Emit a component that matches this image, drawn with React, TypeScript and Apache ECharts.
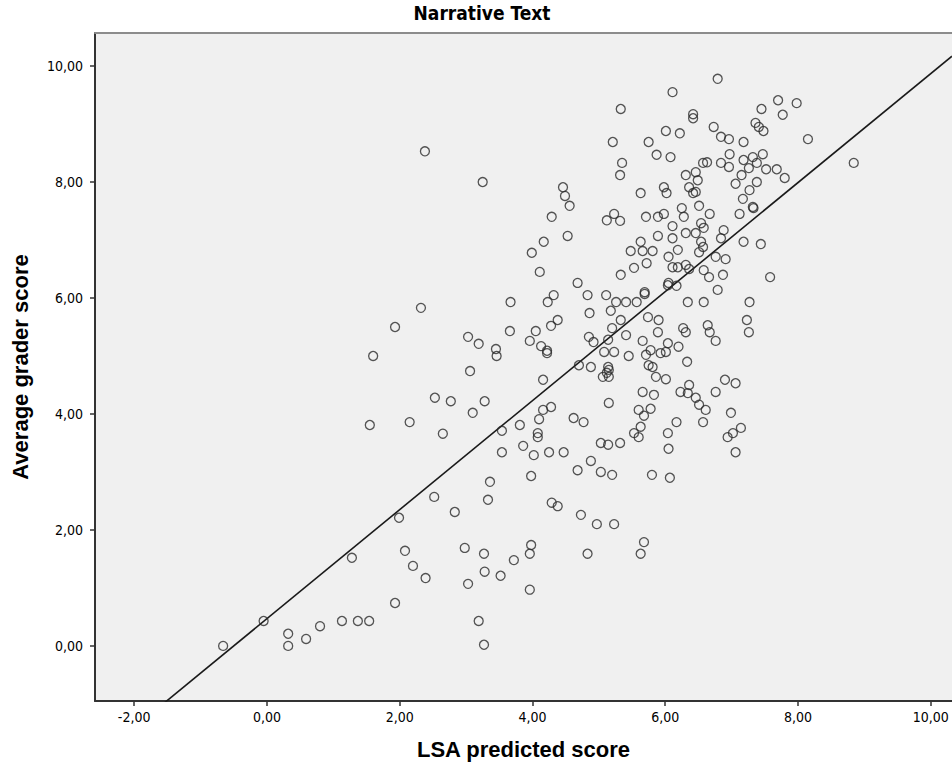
import React, { useEffect, useRef } from "react";
import * as echarts from "echarts";

const chartTitle = "Narrative Text";
const xAxisName = "LSA predicted score";
const yAxisName = "Average grader score";
const xTickValues = [-2, 0, 2, 4, 6, 8, 10];
const yTickValues = [0, 2, 4, 6, 8, 10];
const xRange = [-2.59, 10.32];
const yRange = [-0.95, 10.57];
const fitIntercept = 0.47;
const fitSlope = 0.94;

// [LSA predicted score, Average grader score]
const lowScores: [number, number][] = [
  [-0.66, 0.0], [-0.05, 0.43], [0.32, 0.21], [0.32, 0.0], [0.59, 0.12], [0.8, 0.34],
  [1.13, 0.43], [1.37, 0.43], [1.54, 0.43], [1.28, 1.52], [1.55, 3.81], [1.6, 5.0],
];

const leftScores: [number, number][] = [
  [2.38, 8.53], [3.25, 8.0], [3.99, 6.78], [4.11, 6.45], [2.32, 5.83], [3.67, 5.93], [1.93, 5.5],
  [3.66, 5.43], [4.05, 5.43], [3.03, 5.33], [3.19, 5.21], [3.45, 5.12], [3.46, 5.0], [3.96, 5.26],
  [4.13, 5.17], [4.22, 5.09], [4.22, 5.05], [3.06, 4.74], [4.16, 4.59], [2.53, 4.28], [2.77, 4.22],
  [3.28, 4.22], [3.1, 4.02], [2.15, 3.86], [2.65, 3.66], [3.54, 3.71], [3.81, 3.81], [4.1, 3.91],
  [4.16, 4.07], [4.28, 4.12], [4.08, 3.67], [4.08, 3.6], [3.86, 3.45], [3.54, 3.34], [4.02, 3.29],
  [4.25, 3.34], [4.47, 3.34], [3.36, 2.83], [3.33, 2.52], [2.52, 2.57], [2.83, 2.31], [1.99, 2.21],
  [3.98, 2.93], [4.29, 2.47], [4.38, 2.41], [2.08, 1.64], [2.2, 1.38], [2.39, 1.17], [1.93, 0.74],
  [2.98, 1.69], [3.27, 1.59], [3.28, 1.28], [3.52, 1.21], [3.03, 1.07], [3.72, 1.48], [3.98, 1.74],
  [3.96, 1.59], [3.96, 0.97], [3.19, 0.43], [3.27, 0.02],
  [4.73, 2.26], [4.97, 2.1], [5.23, 2.1], [4.83, 1.59], [5.68, 1.79], [5.63, 1.59],
];

const upperMidScores: [number, number][] = [
  [6.11, 9.55], [5.33, 9.26], [6.01, 8.88], [5.21, 8.69], [5.75, 8.69], [5.87, 8.47], [6.08, 8.43],
  [5.35, 8.33], [5.32, 8.12], [4.46, 7.91], [4.49, 7.76], [4.56, 7.59], [5.63, 7.81], [5.98, 7.91],
  [6.02, 7.81], [4.29, 7.4], [5.23, 7.45], [5.12, 7.34], [5.32, 7.33], [5.71, 7.4], [5.89, 7.4],
  [5.98, 7.45], [6.11, 7.24], [4.17, 6.97], [4.53, 7.07], [5.89, 7.07], [5.63, 6.97], [5.48, 6.81],
  [5.66, 6.81], [5.81, 6.81], [6.11, 7.03], [6.05, 6.71], [6.11, 6.53], [5.72, 6.6], [5.53, 6.52],
  [6.19, 6.83],
];

const upperRightScores: [number, number][] = [
  [6.79, 9.78], [7.7, 9.41], [7.98, 9.36], [7.45, 9.26], [7.77, 9.16], [6.42, 9.17], [6.42, 9.1],
  [6.22, 8.84], [6.73, 8.95], [6.84, 8.78], [6.96, 8.74], [7.36, 9.02], [7.41, 8.95], [7.48, 8.88],
  [8.15, 8.74], [7.18, 8.69], [6.97, 8.48], [6.57, 8.33], [6.63, 8.34], [6.84, 8.33], [6.96, 8.26],
  [7.18, 8.38], [7.32, 8.43], [7.47, 8.48], [7.26, 8.24], [7.38, 8.33], [7.52, 8.22], [7.68, 8.22],
  [7.8, 8.07], [6.31, 8.12], [6.46, 8.17], [6.49, 8.03], [6.36, 7.91], [6.42, 7.81], [6.46, 7.83],
  [7.15, 8.12], [7.38, 8.0], [7.06, 7.97], [7.27, 7.86], [7.17, 7.71], [7.33, 7.55], [7.32, 7.57],
  [6.51, 7.59], [6.25, 7.55], [6.28, 7.4], [6.67, 7.45], [7.12, 7.45], [6.31, 7.12], [6.54, 7.29],
  [6.58, 7.21], [6.46, 7.12], [6.54, 6.97], [6.57, 6.88], [6.51, 6.79], [6.88, 7.17], [6.84, 7.03],
  [7.18, 6.97], [7.44, 6.93], [6.76, 6.71], [6.91, 6.67], [6.19, 6.53], [6.31, 6.57], [6.36, 6.5],
  [6.58, 6.48], [8.84, 8.33],
];

const lowerMidScores: [number, number][] = [
  [5.33, 6.4], [4.68, 6.26], [4.83, 6.05], [4.32, 6.05], [4.23, 5.93], [5.11, 6.05], [5.69, 6.1],
  [5.69, 6.07], [6.05, 6.26], [6.04, 6.22], [4.86, 5.74], [5.18, 5.78], [5.26, 5.93], [5.41, 5.93],
  [5.57, 5.93], [5.33, 5.62], [5.74, 5.67], [5.9, 5.62], [5.89, 5.41], [4.38, 5.62], [4.28, 5.52],
  [5.2, 5.48], [5.41, 5.36], [4.85, 5.33], [4.92, 5.24], [5.14, 5.28], [5.08, 5.07], [5.23, 5.07],
  [5.45, 5.0], [5.66, 5.26], [5.78, 5.1], [5.71, 5.02], [6.04, 5.22], [5.93, 5.05], [6.01, 5.07],
  [4.7, 4.84], [4.88, 4.81], [5.14, 4.81], [5.15, 4.76], [5.12, 4.71], [5.06, 4.64], [5.15, 4.64],
  [5.75, 4.84], [5.81, 4.81], [5.86, 4.64], [6.01, 4.6], [5.15, 4.19], [5.66, 4.38], [5.83, 4.33],
  [4.62, 3.93], [4.77, 3.86], [5.6, 4.07], [5.78, 4.09], [5.68, 3.97], [5.63, 3.78], [5.53, 3.67],
  [5.6, 3.6], [5.03, 3.5], [5.14, 3.47], [5.32, 3.5], [6.04, 3.67], [6.05, 3.4], [4.88, 3.19],
  [4.68, 3.03], [5.03, 3.0], [5.2, 2.95], [5.8, 2.95], [6.07, 2.9],
];

const lowerRightScores: [number, number][] = [
  [6.66, 6.36], [6.87, 6.4], [6.17, 6.21], [6.79, 6.14], [7.58, 6.36], [6.34, 5.93], [6.58, 5.93],
  [7.27, 5.93], [6.27, 5.48], [6.31, 5.41], [6.64, 5.53], [6.67, 5.41], [6.76, 5.26], [7.23, 5.62],
  [7.26, 5.41], [6.2, 5.16], [6.33, 4.9], [6.9, 4.59], [7.06, 4.53], [6.76, 4.38], [6.36, 4.5],
  [6.23, 4.38], [6.34, 4.36], [6.46, 4.28], [6.51, 4.16], [6.61, 4.07], [6.99, 4.02], [6.57, 3.86],
  [6.17, 3.86], [7.14, 3.76], [7.02, 3.67], [6.94, 3.6], [7.06, 3.34],
];

const allScores = [
  ...lowScores, ...leftScores, ...upperMidScores, ...upperRightScores, ...lowerMidScores, ...lowerRightScores,
];

const narrow = "'Liberation Sans Narrow', 'Arial Narrow', 'DejaVu Sans Condensed', Arial, sans-serif";
const bold = "Arial, 'Liberation Sans', sans-serif";

export default function App() {
  const ref = useRef<HTMLDivElement>(null);
  useEffect(() => {
    if (!ref.current) return;
    const chart = echarts.init(ref.current, null, { renderer: "svg" });
    const fmt = (v: number) => v.toFixed(2).replace(".", ",");
    const fitLine = xRange.map((x) => [x, fitIntercept + fitSlope * x]);
    chart.setOption({
      animation: false,
      backgroundColor: "#ffffff",
      graphic: [
        {
          type: "text",
          x: 482,
          y: 13,
          style: {
            text: chartTitle,
            fill: "#000",
            font: `bold 19px ${narrow}`,
            textAlign: "center",
            textVerticalAlign: "middle",
          },
        },
      ],
      grid: {
        left: 95,
        top: 33,
        right: 0,
        bottom: 68,
        show: true,
        backgroundColor: "#f0f0f0",
        borderWidth: 0,
      },
      xAxis: [
        {
          type: "value",
          min: xRange[0],
          max: xRange[1],
          position: "bottom",
          name: xAxisName,
          nameLocation: "middle",
          nameGap: 37,
          nameTextStyle: { fontFamily: bold, fontWeight: "bold", fontSize: 22, color: "#000" },
          axisLine: { show: true, onZero: false, lineStyle: { color: "#333", width: 2 } },
          axisTick: { show: true, length: 5, customValues: xTickValues, lineStyle: { color: "#333", width: 1.5 } },
          axisLabel: {
            customValues: xTickValues,
            formatter: fmt,
            fontFamily: narrow,
            fontSize: 14,
            color: "#000",
            margin: 9,
          },
          splitLine: { show: false },
        },
        {
          type: "value",
          min: xRange[0],
          max: xRange[1],
          position: "top",
          axisLine: { show: true, onZero: false, lineStyle: { color: "#8c8c8c", width: 2 } },
          axisTick: { show: false },
          axisLabel: { show: false },
          splitLine: { show: false },
        },
      ],
      yAxis: {
        type: "value",
        min: yRange[0],
        max: yRange[1],
        name: yAxisName,
        nameLocation: "middle",
        nameGap: 64,
        nameTextStyle: { fontFamily: bold, fontWeight: "bold", fontSize: 22, color: "#000" },
        axisLine: { show: true, onZero: false, lineStyle: { color: "#333", width: 2 } },
        axisTick: { show: true, length: 5, customValues: yTickValues, lineStyle: { color: "#333", width: 1.5 } },
        axisLabel: {
          customValues: yTickValues,
          formatter: fmt,
          fontFamily: narrow,
          fontSize: 14,
          color: "#000",
          margin: 12,
        },
        splitLine: { show: false },
      },
      series: [
        {
          type: "scatter",
          data: allScores,
          symbol: "circle",
          symbolSize: 9,
          itemStyle: { color: "transparent", borderColor: "#2a2a2a", borderWidth: 1.3 },
          z: 3,
        },
        {
          type: "line",
          data: fitLine,
          showSymbol: false,
          symbol: "none",
          clip: true,
          lineStyle: { color: "#1a1a1a", width: 1.6 },
          z: 2,
        },
      ],
    });
    return () => chart.dispose();
  }, []);
  return (
    <div
      ref={ref}
      style={{ position: "fixed", left: 0, top: 0, width: 952, height: 769, background: "#fff" }}
    />
  );
}
